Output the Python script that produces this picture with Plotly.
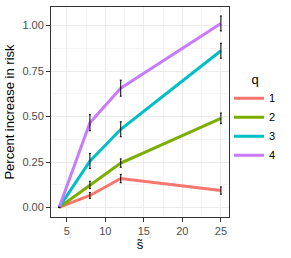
import plotly.graph_objects as go

s_values = [4, 8, 12, 25]
q_labels = ["1", "2", "3", "4"]
q1 = [0.0, 0.066, 0.159, 0.093]
q2 = [0.0, 0.124, 0.244, 0.490]
q3 = [0.0, 0.255, 0.430, 0.862]
q4 = [0.0, 0.466, 0.656, 1.012]
q1_err = [0.0, 0.016, 0.023, 0.020]
q2_err = [0.0, 0.020, 0.023, 0.029]
q3_err = [0.0, 0.041, 0.041, 0.041]
q4_err = [0.0, 0.044, 0.044, 0.041]
x_ticks = [5, 10, 15, 20, 25]
y_ticks = [0.0, 0.25, 0.5, 0.75, 1.0]
y_tick_text = ["0.00", "0.25", "0.50", "0.75", "1.00"]

colors = ["#F8766D", "#7CAE00", "#00BFC4", "#C77CFF"]
series = [q1, q2, q3, q4]
errors = [q1_err, q2_err, q3_err, q4_err]

fig = go.Figure()
for lab, ys, col in zip(q_labels, series, colors):
    fig.add_trace(go.Scatter(x=s_values, y=ys, mode="lines", name=lab,
                             line=dict(color=col, width=3)))
for lab, ys, er in zip(q_labels, series, errors):
    fig.add_trace(go.Scatter(x=s_values, y=ys, mode="markers", showlegend=False,
                             marker=dict(size=1, opacity=0), hoverinfo="skip",
                             error_y=dict(type="data", array=er, visible=True,
                                          color="black", thickness=1, width=1)))

axis_common = dict(showline=True, linecolor="#333333", linewidth=1, mirror=True,
                   ticks="outside", ticklen=4, tickcolor="#333333", tickwidth=1,
                   gridcolor="#EBEBEB", gridwidth=1, zeroline=False, automargin=False,
                   tickfont=dict(size=11, color="#4D4D4D"),
                   minor=dict(showgrid=True, gridcolor="#F5F5F5", gridwidth=0.5))

fig.update_layout(
    width=291, height=258,
    margin=dict(l=51, r=62, t=7, b=41, autoexpand=False),
    paper_bgcolor="white", plot_bgcolor="white",
    font=dict(family="Liberation Sans, Arial, sans-serif", color="black"),
    xaxis=dict(range=[2.95, 26.05], tickvals=x_ticks,
               title=dict(text="s\u0303", font=dict(size=13), standoff=2),
               **axis_common),
    yaxis=dict(range=[-0.0525, 1.1025], tickvals=y_ticks, ticktext=y_tick_text,
               title=dict(text="Percent increase in risk", font=dict(size=13), standoff=4),
               **axis_common),
    legend=dict(x=1.0, xanchor="left", y=0.47, yanchor="middle",
                title=dict(text="q", font=dict(size=13), side="top center"),
                font=dict(size=11), tracegroupgap=0, itemwidth=30,
                bgcolor="rgba(0,0,0,0)"),
)
fig.update_xaxes(minor=dict(tickvals=[7.5, 12.5, 17.5, 22.5]))
fig.update_yaxes(minor=dict(tickvals=[0.125, 0.375, 0.625, 0.875]))

fig.write_html("out.html", config={"displayModeBar": False},
               post_script="document.body.style.margin='0';document.body.style.padding='0';")
